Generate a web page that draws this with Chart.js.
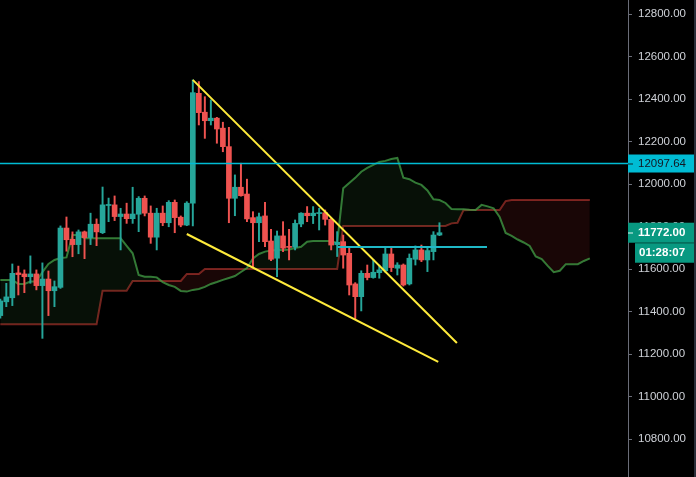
<!DOCTYPE html>
<html>
<head>
<meta charset="utf-8">
<script src="https://cdn.jsdelivr.net/npm/chart.js@4.4.1/dist/chart.umd.min.js"></script>
<style>
  html, body { margin: 0; padding: 0; background: #2a2e39; }
  #kutu { width: 694px; height: 477px; background: #000; }
</style>
</head>
<body>
<div id="kutu"><canvas id="grafik" width="694" height="477"></canvas></div>
<script>
// Mum verileri (bar başına)
const ACILIS = [11382,11447,11466,11583,11578,11565,11578,11523,11554,11499,11515,11794,11741,11716,11776,11749,11812,11772,11900,11903,
  11848,11860,11838,11859,11934,11864,11751,11864,11819,11915,11845,11808,11911,12428,12339,12299,12311,12264,12177,11934,
  11986,11954,11843,11819,11851,11733,11652,11757,11706,11704,11813,11864,11852,11862,11866,11835,11716,11730,11675,11531,
  11471,11581,11561,11584,11593,11672,11605,11620,11531,11647,11691,11644,11683,11761];
const YUKSEK = [11460,11534,11625,11615,11597,11663,11597,11630,11592,11545,11804,11846,11776,11785,11780,11864,11837,11987,11935,11945,
  11887,11911,11986,11942,11945,11898,11887,11898,11923,11926,11851,11918,12491,12483,12412,12397,12315,12292,12268,12044,
  12099,12024,11871,11864,11915,11788,11780,11824,11788,11832,11866,11895,11895,11887,11879,11840,11777,11761,11706,11537,
  11593,11620,11647,11620,11699,11699,11631,11625,11672,11710,11714,11699,11777,11819];
const DUSUK = [11370,11424,11429,11479,11490,11534,11503,11275,11382,11424,11510,11685,11659,11673,11650,11716,11711,11768,11824,11829,
  11691,11816,11816,11777,11851,11722,11691,11805,11800,11772,11800,11805,11804,12279,12216,12279,12193,12153,11819,11852,
  11944,11824,11612,11730,11706,11640,11565,11683,11644,11691,11800,11824,11815,11785,11808,11691,11660,11605,11479,11365,
  11404,11550,11558,11558,11586,11589,11573,11521,11526,11620,11636,11589,11644,11758];
const KAPANIS = [11451,11470,11581,11575,11565,11578,11523,11554,11499,11518,11794,11739,11716,11776,11749,11812,11776,11903,11905,11848,
  11860,11838,11860,11934,11864,11751,11864,11819,11915,11843,11808,11911,12431,12337,12299,12311,12260,12177,11934,11986,
  11946,11837,11819,11847,11730,11647,11757,11699,11703,11816,11864,11852,11864,11866,11835,11714,11727,11667,11526,11471,
  11581,11561,11586,11597,11672,11608,11620,11526,11652,11691,11644,11688,11761,11772];

// Ichimoku bulutu (25 bar ileri kaydırılmış)
const SENKOU_A = [11550,11550,11550,11531,11531,11542,11542,11587,11625,11644,11653,11656,11761,11761,11746,11746,11746,11746,11746,11746,
  11746,11710,11675,11573,11565,11565,11562,11540,11526,11517,11498,11495,11503,11507,11517,11531,11540,11550,11559,11568,
  11587,11606,11651,11672,11683,11688,11691,11691,11693,11700,11706,11730,11733,11733,11733,11733,11724,11981,12006,12030,
  12059,12077,12091,12105,12110,12119,12124,12031,12024,12008,11997,11971,11929,11926,11912,11884,11883,11882,11880,11879,
  11903,11896,11887,11846,11771,11757,11740,11726,11710,11660,11648,11616,11586,11593,11624,11624,11624,11639,11651];
const SENKOU_B = [11341,11341,11341,11341,11341,11341,11341,11341,11341,11341,11341,11341,11341,11341,11341,11341,11341,11499,11499,11499,
  11499,11499,11545,11545,11545,11545,11545,11545,11545,11545,11545,11578,11578,11578,11601,11601,11601,11601,11601,11601,
  11601,11601,11601,11601,11601,11601,11601,11601,11601,11601,11601,11601,11601,11601,11601,11601,11601,11804,11804,11804,
  11804,11804,11804,11804,11804,11804,11804,11804,11804,11804,11804,11804,11804,11804,11804,11816,11819,11878,11879,11879,
  11879,11879,11879,11879,11921,11926,11926,11926,11926,11926,11926,11926,11926,11926,11926,11926,11926,11926,11926];

// Çizimler (bar indeksi, fiyat)
const TREND1_X = [32.0, 75.9], TREND1_Y = [12491, 11253];
const TREND2_X = [31.0, 72.8], TREND2_Y = [11766, 11164];
const SEVIYE_X = [56.1, 80.9], SEVIYE_Y = 11705;
const YATAY_CIZGI = 12097.64;
const SON_FIYAT = 11772.00;
const GERI_SAYIM = "01:28:07";
const FIYAT_TICKLERI = [10800, 11000, 11200, 11400, 11600, 11800, 12000, 12200, 12400, 12600, 12800];

const YESIL = "#26a69a", KIRMIZI = "#ef5350";
const renk = ACILIS.map((a, i) => KAPANIS[i] >= a ? YESIL : KIRMIZI);
const nokta = (xs, ys) => xs.map((x, i) => ({ x, y: Array.isArray(ys) ? ys[i] : ys }));

const etiketler = {
  id: "etiketler",
  afterDraw(chart) {
    const { ctx, scales: { y } } = chart;
    const sol = chart.chartArea.right;
    ctx.save();
    ctx.textBaseline = "middle";
    // yatay çizgi etiketi
    let py = y.getPixelForValue(YATAY_CIZGI);
    ctx.fillStyle = "#00bcd4";
    ctx.fillRect(sol, py - 9, 66, 18);
    ctx.fillStyle = "#0b2a30";
    ctx.fillRect(sol, Math.round(py) - 0.5, 5, 1);
    ctx.font = "11.5px 'Liberation Sans', Arial, sans-serif";
    ctx.fillStyle = "#131722";
    ctx.fillText(YATAY_CIZGI.toFixed(2), sol + 10, py + 0.5);
    // son fiyat + geri sayım
    py = y.getPixelForValue(SON_FIYAT);
    ctx.fillStyle = "#089981";
    ctx.fillRect(sol, py - 10, 66, 20);
    ctx.fillRect(sol + 7, py + 10.5, 59, 19.5);
    ctx.fillStyle = "#dff5f1";
    ctx.fillRect(sol, Math.round(py) - 0.5, 5, 1);
    ctx.font = "bold 11.5px 'Liberation Sans', Arial, sans-serif";
    ctx.fillStyle = "#ffffff";
    ctx.fillText(SON_FIYAT.toFixed(2), sol + 10, py + 0.5);
    ctx.fillText(GERI_SAYIM, sol + 11, py + 20.5);
    ctx.restore();
  }
};

new Chart(document.getElementById("grafik"), {
  type: "bar",
  data: {
    datasets: [
      {
        type: "line", data: nokta([-1, 110], YATAY_CIZGI),
        borderColor: "#00bcd4", borderWidth: 1.6, pointRadius: 0, order: 0
      },
      {
        type: "line", data: nokta(SEVIYE_X, SEVIYE_Y),
        borderColor: "#1fb8c6", borderWidth: 2, pointRadius: 0, order: 1
      },
      {
        type: "line", data: nokta(TREND1_X, TREND1_Y),
        borderColor: "#ffeb3b", borderWidth: 2, pointRadius: 0, order: 1
      },
      {
        type: "line", data: nokta(TREND2_X, TREND2_Y),
        borderColor: "#ffeb3b", borderWidth: 2, pointRadius: 0, order: 1
      },
      {
        data: ACILIS.map((a, i) => ({ x: i, y: [a, KAPANIS[i]] })),
        backgroundColor: renk, barThickness: 5, minBarLength: 1, grouped: false, order: 2
      },
      {
        data: ACILIS.map((a, i) => ({ x: i, y: [DUSUK[i], YUKSEK[i]] })),
        backgroundColor: renk, barThickness: 1.3, grouped: false, order: 3
      },
      {
        type: "line", data: SENKOU_A.map((v, i) => ({ x: i, y: v })),
        borderColor: "rgba(67,160,71,0.75)", borderWidth: 2, pointRadius: 0, order: 4,
        fill: { target: "+1", above: "rgba(76,175,80,0.09)", below: "rgba(229,57,53,0.11)" }
      },
      {
        type: "line", data: SENKOU_B.map((v, i) => ({ x: i, y: v })),
        borderColor: "rgba(229,67,60,0.5)", borderWidth: 2, pointRadius: 0, order: 5
      }
    ]
  },
  options: {
    responsive: false,
    animation: false,
    devicePixelRatio: 1,
    layout: { padding: 0 },
    plugins: { legend: { display: false }, tooltip: { enabled: false } },
    scales: {
      x: { type: "linear", display: false, offset: false, min: -0.05, max: 104.34 },
      y: {
        position: "right",
        min: 10622.6, max: 12867,
        afterBuildTicks: s => { s.ticks = FIYAT_TICKLERI.map(v => ({ value: v })); },
        afterFit: s => { s.width = 66; s.paddingTop = 0; s.paddingBottom = 0; },
        border: { display: true, color: "#6a6d78" },
        grid: { drawOnChartArea: false, drawTicks: true, tickLength: 4, tickColor: "#6a6d78" },
        ticks: {
          color: "#cfd2d8", padding: 6,
          font: { family: "'Liberation Sans', Arial, sans-serif", size: 11.5 },
          callback: v => v.toFixed(2)
        }
      }
    }
  },
  plugins: [etiketler]
});
</script>
</body>
</html>
